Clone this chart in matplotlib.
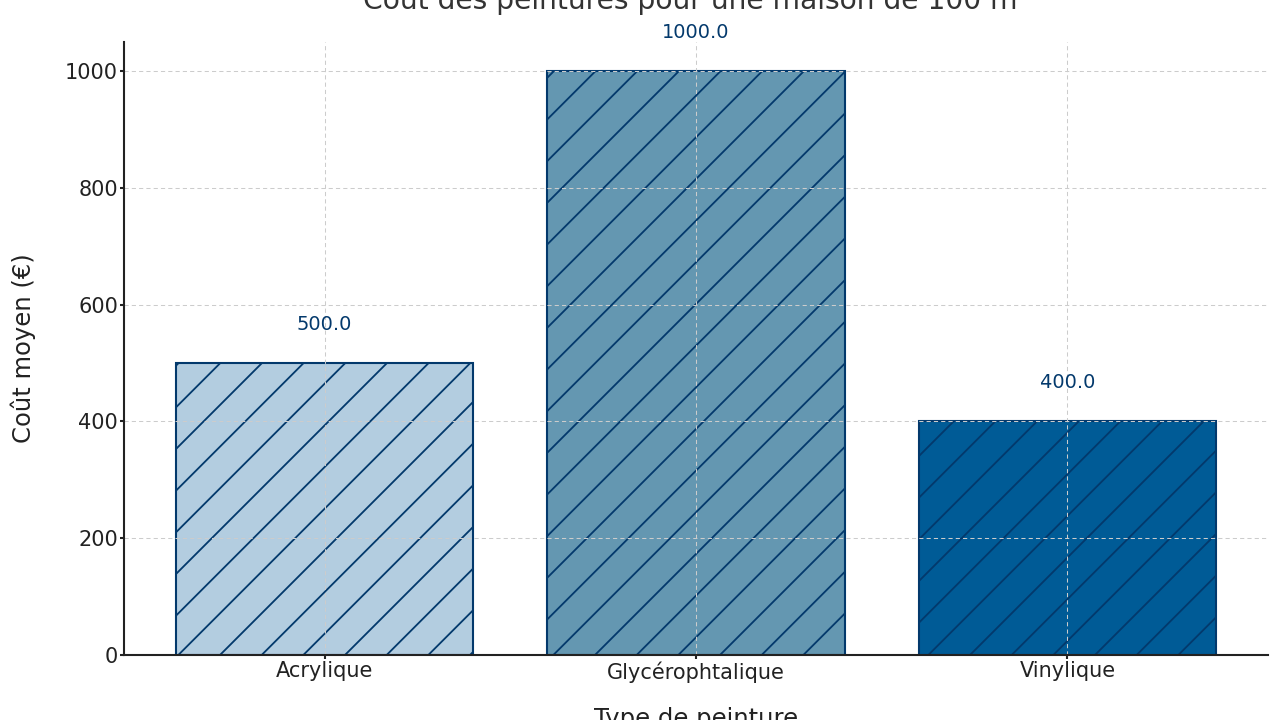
import matplotlib
matplotlib.use("Agg")
import matplotlib.pyplot as plt

# data
types = ["Acrylique", "Glycérophtalique", "Vinylique"]
couts = [500.0, 1000.0, 400.0]
couleurs = ["#b3cde0", "#6497b1", "#005b96"]

# dpi picked so the hatch spacing matches the reference
DPI = 125
plt.rcParams['lines.scale_dashes'] = False
plt.rcParams['hatch.linewidth'] = 1.05

fig = plt.figure(figsize=(1280 / DPI, 720 / DPI), dpi=DPI)
ax = fig.add_axes([124 / 1280, 65 / 720, 1144 / 1280, 613 / 720])

bars = ax.bar(types, couts, color=couleurs, edgecolor="#03396c",
              linewidth=1.2, hatch="/")

for b, v in zip(bars, couts):
    ax.text(b.get_x() + b.get_width() / 2, v + 50, f"{v:.1f}",
            ha="center", va="bottom", fontsize=11.2, color="#03396c")

ax.set_ylim(0, 1050)
ax.grid(True, color="#cccccc", linestyle=(0, (2.4, 1.8)), linewidth=0.6)

ax.set_title("Coût des peintures pour une maison de 100 m²",
             fontsize=16.2, color="#333333", pad=19)
ax.set_xlabel("Type de peinture", fontsize=14, color="#222222", labelpad=14)
ax.set_ylabel("Coût moyen (€)", fontsize=14, color="#222222", labelpad=16.5)

for s in ["top", "right"]:
    ax.spines[s].set_visible(False)
for s in ["left", "bottom"]:
    ax.spines[s].set_linewidth(1.2)
    ax.spines[s].set_color("#222222")

ax.tick_params(axis="both", labelsize=12, width=1.2, length=2.4,
               colors="#222222")
ax.tick_params(axis="x", pad=1.1)
ax.tick_params(axis="y", pad=1.0)

fig.savefig("out.png", dpi=DPI)
